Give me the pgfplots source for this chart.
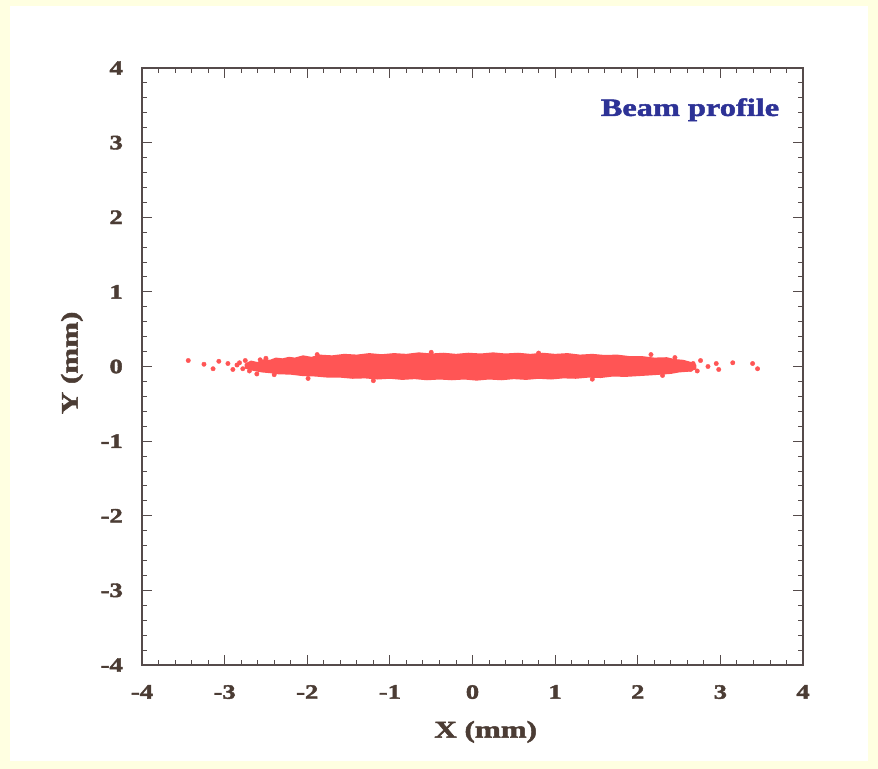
\documentclass[border=0pt]{standalone}
\usepackage{pgfplots}
\pgfplotsset{compat=1.18}
\usepackage{fontspec}
\setmainfont{Liberation Serif}[FakeStretch=1.35]
\newfontfamily\heavy{Liberation Serif Bold}[FakeStretch=1.3,FakeBold=2]
\definecolor{bgyellow}{RGB}{255,255,225}
\definecolor{txt}{RGB}{75,60,52}
\definecolor{axl}{RGB}{85,75,75}
\definecolor{beam}{RGB}{255,85,85}
\definecolor{ttl}{RGB}{45,50,150}
\begin{document}
\begin{tikzpicture}
\useasboundingbox (0,0) rectangle (878bp,769bp);
\fill[bgyellow] (0,0) rectangle (878bp,769bp);
\fill[white] (10bp,8bp) rectangle (868bp,763bp);
\begin{axis}[
  at={(142bp,104bp)}, anchor=south west,
  scale only axis, width=661bp, height=597bp,
  xmin=-4, xmax=4, ymin=-4, ymax=4,
  xtick={-4,-3,-2,-1,0,1,2,3,4},
  ytick={-4,-3,-2,-1,0,1,2,3,4},
  xticklabels={-4,-3,-2,-1,0,1,2,3,4},
  yticklabels={-4,-3,-2,-1,0,1,2,3,4},
  minor x tick num=4, minor y tick num=4,
  tick align=inside,
  major tick length=10bp, minor tick length=5bp,
  axis line style={draw=axl, line width=1.5bp},
  every tick/.style={draw=axl, line width=0.9bp},
  tick label style={font=\heavy\fontsize{20.5}{20.5}\selectfont, text=txt},
  xticklabel style={inner sep=0pt, yshift=-20bp},
  yticklabel style={inner sep=0pt, xshift=-19bp},
  xlabel={X (mm)}, ylabel={Y (mm)},
  label style={font=\heavy\fontsize{24}{24}\selectfont, text=txt},
  xlabel style={at={(axis description cs:0.52,-0.112)}, anchor=center},
  ylabel style={at={(axis description cs:-0.106,0.506)}, anchor=center, rotate=0},
]
% dense core of the beam (envelope)
\addplot[fill=beam, draw=beam, line width=1.4bp, line join=round] coordinates {
(-2.75,0.03) (-2.68,0.07) (-2.6,0.05) (-2.52,0.09) (-2.45,0.08) (-2.38,0.11) (-2.3,0.10) (-2.22,0.12) (-2.15,0.11) (-2.05,0.14) (-1.95,0.12) (-1.85,0.15) (-1.7,0.14) (-1.55,0.16) (-1.4,0.15) (-1.25,0.17) (-1.1,0.155) (-0.95,0.17) (-0.8,0.16) (-0.65,0.18) (-0.5,0.165) (-0.35,0.175) (-0.2,0.16) (-0.05,0.175) (0.1,0.165) (0.25,0.18) (0.4,0.165) (0.55,0.175) (0.7,0.16) (0.85,0.175) (1.0,0.16) (1.15,0.17) (1.3,0.15) (1.45,0.16) (1.6,0.145) (1.75,0.15) (1.9,0.13) (2.05,0.13) (2.2,0.11) (2.35,0.115) (2.45,0.09) (2.55,0.08) (2.65,0.05) (2.7,0.02)
(2.7,-0.03) (2.62,-0.06) (2.5,-0.07) (2.4,-0.09) (2.28,-0.1) (2.15,-0.11) (2.0,-0.12) (1.85,-0.13) (1.7,-0.125) (1.55,-0.145) (1.4,-0.14) (1.25,-0.155) (1.1,-0.15) (0.95,-0.165) (0.8,-0.155) (0.65,-0.17) (0.5,-0.16) (0.35,-0.175) (0.2,-0.165) (0.05,-0.18) (-0.1,-0.165) (-0.25,-0.175) (-0.4,-0.165) (-0.55,-0.175) (-0.7,-0.16) (-0.85,-0.17) (-1.0,-0.155) (-1.15,-0.165) (-1.3,-0.15) (-1.45,-0.155) (-1.6,-0.14) (-1.75,-0.14) (-1.9,-0.125) (-2.05,-0.12) (-2.2,-0.1) (-2.35,-0.095) (-2.45,-0.08) (-2.55,-0.07) (-2.65,-0.05) (-2.75,-0.02)
} -- cycle;
% sparse particles at the tails and edges
\addplot[only marks, color=beam, mark=*, mark size=2.2bp, mark options={solid, draw=beam, fill=beam}] coordinates {
(-3.44,0.08) (-3.25,0.03) (-3.14,-0.03) (-3.07,0.07) (-2.96,0.04) (-2.90,-0.04) (-2.82,0.05) (-2.78,-0.03) (-2.75,0.08) (-2.63,0.00) (-2.57,0.09) (-2.61,-0.10) (-2.85,0.02) (-1.88,0.16) (-1.99,-0.16) (-1.2,-0.19) (-0.5,0.19) (0.8,0.18) (1.45,-0.17) (2.16,0.16) (2.67,0.04) (2.64,-0.04) (2.76,0.08) (2.85,0.00) (2.95,0.04) (2.98,-0.04) (3.15,0.05) (3.39,0.04) (3.45,-0.03) (2.72,-0.06) (-2.7,-0.06) (-2.5,0.11) (-2.4,-0.11) (2.45,0.12) (2.3,-0.12)
};
\node[font=\heavy\fontsize{25}{25}\selectfont, text=ttl] at (rel axis cs:0.829,0.93) {Beam profile};
\end{axis}
\end{tikzpicture}
\end{document}
